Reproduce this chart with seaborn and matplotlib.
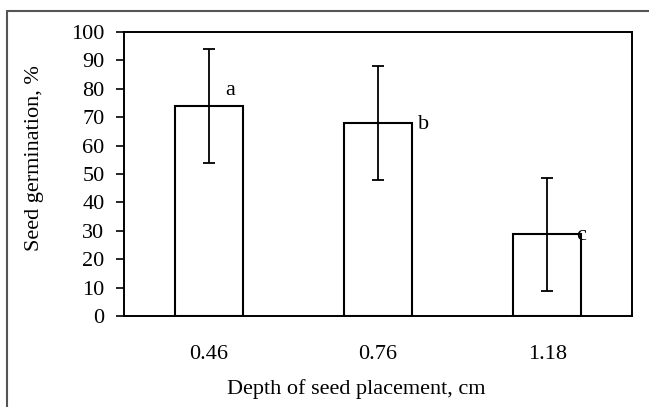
import matplotlib
matplotlib.use("Agg")
import matplotlib.pyplot as plt
import seaborn as sns
import pandas as pd
from matplotlib.lines import Line2D

depths = ["0.46", "0.76", "1.18"]
germination = [74, 68, 28.7]
errors = [20, 20, 20]
letters = ["a", "b", "c"]
letter_x = [0.13, 1.27, 2.2]
letter_y = [79.5, 67.3, 28.2]
y_ticks = [0, 10, 20, 30, 40, 50, 60, 70, 80, 90, 100]

sns.set_theme(style="white")
plt.rcParams["font.family"] = ["Liberation Serif", "DejaVu Serif"]

df = pd.DataFrame({"depth": depths, "germ": germination})

fig = plt.figure(figsize=(6.49, 4.07), dpi=100)
ax = fig.add_axes([124/649, 1 - 316/407, (632 - 124)/649, (316 - 32)/407])

sns.barplot(data=df, x="depth", y="germ", ax=ax, color="white",
            edgecolor="black", linewidth=1.5, width=0.4, errorbar=None)
ax.errorbar(range(len(depths)), germination, yerr=errors, fmt="none",
            ecolor="black", elinewidth=1.3, capsize=4, capthick=1.3)

for lx, ly, t in zip(letter_x, letter_y, letters):
    ax.text(lx, ly, t, ha="center", va="center", fontsize=16, color="black")

ax.set_xlim(-0.5, 2.5)
ax.set_ylim(0, 100)
ax.set_yticks(y_ticks)
ax.tick_params(axis="y", which="both", direction="out", length=6, width=1.2,
               left=True, labelsize=16, pad=8, colors="black")
ax.tick_params(axis="x", length=0, labelsize=16, pad=21, colors="black")
for s in ax.spines.values():
    s.set_color("black")
    s.set_linewidth(1.4)

ax.set_xlabel("")
ax.set_ylabel("")
fig.text(356/649, 1 - 389/407, "Depth of seed placement, cm", ha="center",
         va="center", fontsize=16, color="black")
fig.text(35/649, 1 - 158/407, "Seed germination, %", ha="center",
         va="center", rotation=90, fontsize=16, color="black")

# outer frame (top and left edges visible)
fig.add_artist(Line2D([7/649, 7/649], [0, 1 - 11/407], transform=fig.transFigure,
                      color="#555555", linewidth=1.5))
fig.add_artist(Line2D([7/649, 1], [1 - 11/407, 1 - 11/407], transform=fig.transFigure,
                      color="#555555", linewidth=1.5))

fig.savefig("out.png", dpi=100, facecolor="white")
